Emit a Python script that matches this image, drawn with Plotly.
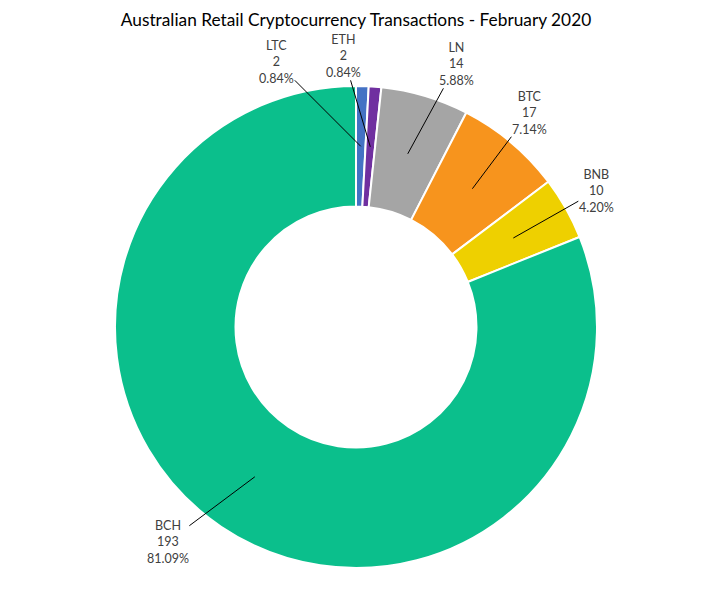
import math
import plotly.graph_objects as go

labels = ["LTC", "ETH", "LN", "BTC", "BNB", "BCH"]
values = [2, 2, 14, 17, 10, 193]
colors = ["#4472C4", "#7030A0", "#A5A5A5", "#F7941D", "#EED000", "#0BBF8C"]
title_text = "Australian Retail Cryptocurrency Transactions - February 2020"

W, H = 719, 596
OFF = 8  # page body margin

def px2x(x):
    return (x - OFF) / W

def px2y(y):
    return 1 - (y - OFF) / H

dom_x = [px2x(115), px2x(597)]
dom_y = [px2y(568), px2y(86)]

fig = go.Figure(go.Pie(
    labels=labels, values=values, sort=False, direction="clockwise", rotation=0,
    hole=0.5, marker=dict(colors=colors, line=dict(color="white", width=2)),
    textinfo="none", hoverinfo="label+value+percent", showlegend=False,
    domain=dict(x=dom_x, y=dom_y),
))

# label offsets in pixels (text position relative to the leader tip)
offsets = {"LTC": (-84, -84), "ETH": (-27, -91), "LN": (49, -90),
           "BTC": (57, -76), "BNB": (83, -47), "BCH": (-87, 65)}

cx, cy, R = 356, 327, 241
r_tip = 0.75 * R
total = sum(values)
cum = 0
for lab, v in zip(labels, values):
    th = 2 * math.pi * (cum + v / 2) / total
    cum += v
    px = cx + r_tip * math.sin(th)
    py = cy - r_tip * math.cos(th)
    ax, ay = offsets[lab]
    pct = 100 * v / total
    fig.add_annotation(
        x=px2x(px), y=px2y(py), xref="paper", yref="paper",
        ax=ax, ay=ay, showarrow=True, arrowhead=0, arrowwidth=1, arrowcolor="#000000",
        text=f"{lab}<br>{v}<br>{pct:.2f}%", align="center",
        font=dict(family="Lato, sans-serif", size=12.5, color="#404040"),
        standoff=0, borderpad=0,
    )

fig.update_layout(
    width=W, height=H,
    margin=dict(l=0, r=0, t=0, b=0),
    paper_bgcolor="white", plot_bgcolor="white",
    title=dict(text=title_text, x=px2x(356), xanchor="center", y=px2y(20), yanchor="middle",
               font=dict(family="Lato, sans-serif", size=17.3, color="#000000")),
)

fig.write_html("out.html")
